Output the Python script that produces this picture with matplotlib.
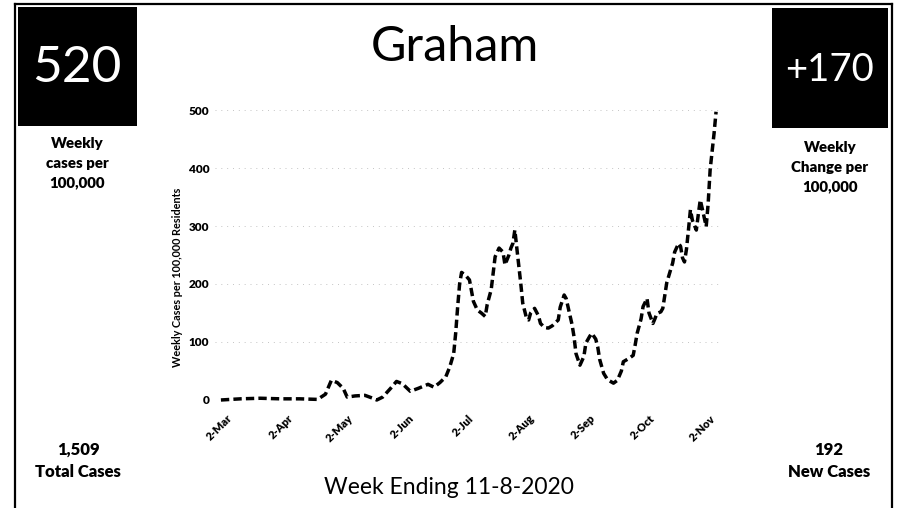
import numpy as np
import matplotlib
matplotlib.use("Agg")
import matplotlib.pyplot as plt
import matplotlib.dates as mdates
from matplotlib.patches import Rectangle
from matplotlib.lines import Line2D

# ---- data ----
base_date = "2020-03-02"
days = [-3, 7, 17, 27, 37, 46, 50, 53, 56, 59, 61, 65, 70, 74, 76, 79, 83, 86, 89, 93,
        97, 102, 105, 108, 111, 113, 115, 116, 117, 118, 119, 121, 123, 125, 127, 129,
        131, 132, 134, 136, 138, 140, 141, 143, 144, 145, 146, 147, 149, 150, 152, 153,
        154, 156, 158, 159, 161, 163, 165, 168, 169, 171, 172, 173, 175, 176, 177, 179,
        181, 182, 184, 185, 187, 188, 189, 191, 193, 196, 198, 200, 201, 204, 206, 207,
        208, 210, 211, 213, 214, 216, 217, 218, 220, 221, 222, 223, 225, 226, 227, 229,
        230, 231, 232, 233, 234, 235, 236, 238, 239, 240, 241, 243, 244, 245, 247, 248]
values = [0, 2, 3, 2, 2, 1, 10, 34, 30, 20, 5, 7, 8, 3, 0, 5, 20, 32, 28, 15,
          20, 27, 22, 30, 40, 57, 80, 115, 160, 200, 220, 215, 207, 170, 155, 150,
          144, 165, 190, 247, 262, 255, 233, 250, 262, 270, 293, 262, 201, 167, 140, 138,
          150, 158, 145, 132, 125, 124, 128, 138, 160, 181, 175, 160, 130, 109, 80, 60,
          75, 98, 110, 115, 105, 92, 70, 46, 35, 29, 34, 50, 66, 72, 77, 95,
          115, 140, 161, 175, 150, 132, 140, 149, 152, 158, 180, 202, 225, 236, 255, 270,
          265, 245, 238, 260, 293, 328, 310, 293, 320, 345, 330, 299, 339, 397, 460, 497]
y_ticks = [0, 100, 200, 300, 400, 500]
title = "Graham"
weekly_rate = "520"
weekly_change = "+170"
total_cases = "1,509"
new_cases = "192"
footer = "Week Ending 11-8-2020"
y_label = "Weekly Cases per 100,000 Residents"

W, H = 897, 508
FONT = ["Lato", "DejaVu Sans"]
plt.rcParams["font.family"] = FONT

fig = plt.figure(figsize=(W / 100, H / 100), dpi=100)
fig.patch.set_facecolor("white")


def fx(x):
    return x / W


def fy(y):
    return 1 - y / H


# axes: pixel x 215..720, y 107..403
ax = fig.add_axes([fx(215), fy(403), fx(720) - fx(215), fy(107) - fy(403)])
dates = np.datetime64(base_date) + np.array(days).astype("timedelta64[D]")
ax.plot(dates, values, color="black", lw=2.5, linestyle=(0, (2.4, 1.2)),
        dash_capstyle="butt", clip_on=False)

ax.set_ylim(-5.2, 505.2)
ax.set_xlim(np.datetime64(base_date) - np.timedelta64(6, "D"),
            np.datetime64(base_date) + np.timedelta64(250, "D"))
ax.set_yticks(y_ticks)
for yt in y_ticks[1:]:
    ax.axhline(yt, color="#c4c4c4", lw=0.7, linestyle=(0, (1, 5)), zorder=0)
for s in ax.spines.values():
    s.set_visible(False)

ax.xaxis.set_major_locator(mdates.MonthLocator(bymonthday=2))
ax.xaxis.set_major_formatter(mdates.DateFormatter("%-d-%b"))
ax.tick_params(axis="both", length=0)
ax.tick_params(axis="y", pad=4, labelsize=8.5)
ax.tick_params(axis="x", pad=7, labelsize=8)
for lbl in ax.get_yticklabels():
    lbl.set_fontweight("heavy")
for lbl in ax.get_xticklabels():
    lbl.set_fontweight("heavy")
    lbl.set_rotation(45)
    lbl.set_ha("right")
    lbl.set_va("top")
    lbl.set_rotation_mode("anchor")

fig.text(fx(177), fy(277), y_label, rotation=90, ha="center", va="center",
         fontsize=7.8, fontweight="bold")

# title and footer
fig.text(fx(455), fy(47), title, ha="center", va="center", fontsize=35)
fig.text(fx(449), fy(487), footer, ha="center", va="center", fontsize=16.5)

# black boxes
fig.patches.append(Rectangle((fx(18), fy(126)), fx(137) - fx(18), fy(7) - fy(126),
                             transform=fig.transFigure, facecolor="black",
                             edgecolor="none", figure=fig))
fig.patches.append(Rectangle((fx(772), fy(128)), fx(888) - fx(772), fy(8) - fy(128),
                             transform=fig.transFigure, facecolor="black",
                             edgecolor="none", figure=fig))
fig.text(fx(77), fy(68), weekly_rate, ha="center", va="center", fontsize=37,
         color="white")
fig.text(fx(829), fy(70), weekly_change, ha="center", va="center", fontsize=27.5,
         color="white")

fig.text(fx(77), fy(163), "Weekly\ncases per\n100,000", ha="center", va="center",
         fontsize=10.8, fontweight="heavy", linespacing=1.6)
fig.text(fx(830), fy(167), "Weekly\nChange per\n100,000", ha="center", va="center",
         fontsize=10.8, fontweight="heavy", linespacing=1.6)

fig.text(fx(78), fy(461), total_cases + "\nTotal Cases", ha="center", va="center",
         fontsize=12, fontweight="heavy", linespacing=1.5)
fig.text(fx(829), fy(461), new_cases + "\nNew Cases", ha="center", va="center",
         fontsize=12, fontweight="heavy", linespacing=1.5)

# page border
for (x0, y0, x1, y1) in [(15, 4, 15, 508), (15, 4, 892, 4), (892, 4, 892, 508)]:
    fig.lines.append(Line2D([fx(x0), fx(x1)], [fy(y0), fy(y1)],
                            transform=fig.transFigure, color="black", lw=1.6))

fig.savefig("out.png", dpi=100, facecolor="white")
